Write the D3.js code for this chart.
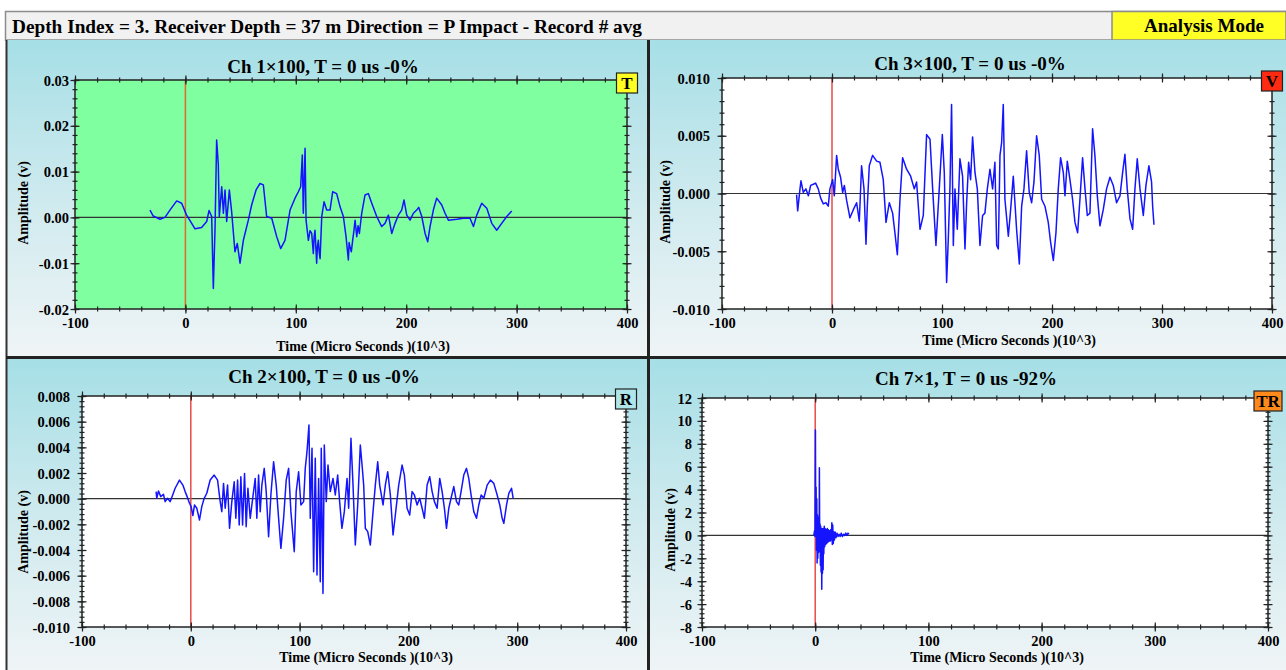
<!DOCTYPE html>
<html>
<head>
<meta charset="utf-8">
<script src="https://cdn.jsdelivr.net/npm/d3@7"></script>
<style>
  body { margin: 0; background: #fff; }
  svg text { font-family: "Liberation Serif", "Times New Roman", serif; font-weight: bold; fill: #000; }
</style>
</head>
<body>
<svg id="chart" width="1286" height="670"></svg>
<script>
// ---- texts ----
const headerText = "Depth Index = 3. Receiver Depth = 37 m Direction = P Impact - Record # avg";
const modeText = "Analysis Mode";
const panelTitles = ["Ch 1×100, T = 0 us -0%", "Ch 3×100, T = 0 us -0%", "Ch 2×100, T = 0 us -0%", "Ch 7×1, T = 0 us -92%"];
const badges = ["T", "V", "R", "TR"];
const xTitle = "Time (Micro Seconds )(10^3)";
const yTitle = "Amplitude (v)";

// x axis (time, x10^3 us)
const xTicks = [-100, 0, 100, 200, 300, 400];
const xTickLabels = ["-100", "0", "100", "200", "300", "400"];

// y axes
const ch1YTicks = [-0.02, -0.01, 0, 0.01, 0.02, 0.03];
const ch1YLabels = ["-0.02", "-0.01", "0.00", "0.01", "0.02", "0.03"];
const ch3YTicks = [-0.01, -0.005, 0, 0.005, 0.01];
const ch3YLabels = ["-0.010", "-0.005", "0.000", "0.005", "0.010"];
const ch2YTicks = [-0.01, -0.008, -0.006, -0.004, -0.002, 0, 0.002, 0.004, 0.006, 0.008];
const ch2YLabels = ["-0.010", "-0.008", "-0.006", "-0.004", "-0.002", "0.000", "0.002", "0.004", "0.006", "0.008"];
const ch7YTicks = [-8, -6, -4, -2, 0, 2, 4, 6, 8, 10, 12];
const ch7YLabels = ["-8", "-6", "-4", "-2", "0", "2", "4", "6", "8", "10", "12"];

// ---- waveforms (time x10^3 us, amplitude in mV for ch1/ch2/ch3, V for ch7) ----
const ch1Time = [-32.1, -29.1, -23.0, -18.5, -14.0, -7.9, -3.4, 1.1, 5.7, 8.7,
  14.7, 19.3, 21.4, 23.8, 25.3, 26.8, 28.3, 29.8, 30.7, 32.9,
  34.4, 35.9, 37.4, 39.8, 41.9, 44.9, 47.0, 49.5, 52.5, 57.0,
  60.0, 64.0, 67.6, 70.6, 73.6, 78.2, 82.7, 86.3, 90.2, 94.8,
  99.3, 102.3, 104.4, 105.9, 106.8, 108.4, 109.3, 111.4, 112.9, 114.4,
  115.9, 116.6, 117.4, 118.9, 119.6, 120.4, 121.2, 122.0, 123.5, 125.6,
  128.0, 131.0, 133.4, 137.0, 140.1, 143.1, 145.5, 147.6, 148.3, 149.1,
  150.3, 151.5, 152.6, 153.7, 155.2, 156.4, 157.6, 159.7, 162.7, 165.7,
  168.8, 173.3, 177.8, 180.8, 183.9, 186.9, 189.9, 192.9, 195.9, 198.0,
  200.5, 203.5, 206.5, 209.5, 211.3, 214.1, 217.1, 219.5, 221.6, 224.6,
  227.6, 232.2, 235.2, 238.2, 245.8, 251.8, 257.8, 260.9, 263.9, 268.4,
  273.0, 277.5, 282.0, 286.5, 291.1, 295.6];
const ch1AmpMilli = [1.6, 0.3, -0.4, 0.0, 1.6, 3.6, 3.1, 0.5, -1.3, -2.5,
  -2.2, -0.9, 1.5, 0.2, -15.5, -2.8, 16.9, 11.6, 0.2, 6.7,
  0.9, 6.0, -0.9, 6.0, 1.2, -7.5, -5.7, -10.0, -5.0, -0.6,
  2.7, 6.0, 7.4, 7.1, 0.2, -0.2, -4.2, -6.8, -5.0, 1.6,
  4.2, 5.6, 6.7, 13.6, 0.9, 15.1, -0.6, -5.0, -2.9, -3.5,
  -7.9, -4.2, -2.8, -10.0, -6.4, -5.0, -7.6, -9.0, 0.2, 3.4,
  1.6, 1.6, 5.6, 5.2, 2.3, 0.2, -4.2, -9.3, -5.5, -6.4,
  -7.5, -5.0, -3.0, -0.6, -4.2, -1.8, -3.5, 0.9, 4.9, 5.2,
  3.1, 0.2, -2.0, -1.3, 0.5, -3.5, -1.3, 0.5, 1.6, 3.8,
  0.5, -0.6, 0.9, 1.6, 2.2, 0.2, -3.5, -5.3, -2.0, 1.6,
  4.2, 2.7, 0.9, -0.6, -0.4, -0.2, -0.2, -2.0, 0.5, 3.1,
  2.0, -1.3, -2.8, -1.3, 0.2, 1.4];

const ch3Time = [-32.2, -31.2, -29.1, -28.2, -26.1, -23.7, -21.5, -19.4, -17.0, -14.9, -12.5, -10.3, -7.9, -5.5, -3.4, -1.9, 0.6, 2.1, 4.2, 5.7,
  7.8, 9.7, 11.2, 13.3, 16.3, 19.4, 22.4, 24.8, 26.9, 29.1, 30.9, 32.1, 33.9, 36.9, 40.6, 43.6, 46.6, 49.1, 52.1, 55.1,
  57.2, 59.4, 61.8, 64.2, 67.8, 71.5, 74.8, 76.9, 80.0, 83.0, 86.0, 89.1, 91.5, 94.5, 97.5, 100.3, 102.1, 104.2, 105.7, 107.2,
  108.7, 110.3, 111.8, 113.9, 116.3, 118.7, 120.9, 122.4, 124.2, 126.0, 127.8, 130.0, 132.1, 134.5, 136.9, 139.0, 141.2, 143.6, 146.0, 148.1,
  149.7, 151.2, 152.7, 154.2, 155.7, 157.2, 160.3, 162.4, 164.8, 167.8, 170.3, 172.4, 174.5, 176.9, 179.3, 181.5, 183.6, 186.0, 188.4, 190.6,
  193.6, 196.6, 198.7, 201.2, 203.6, 205.7, 207.8, 210.3, 211.8, 213.9, 216.3, 218.7, 220.9, 223.3, 225.4, 227.8, 230.0, 232.1, 234.5, 236.9,
  239.0, 241.2, 243.6, 246.6, 249.6, 252.7, 255.7, 258.7, 261.8, 264.2, 266.3, 268.4, 270.9, 273.3, 275.4, 277.5, 280.0, 283.0, 285.4, 288.1,
  290.5, 291.5, 292.7];
const ch3AmpMilli = [-0.1, -1.5, 0.4, 1.1, 0.1, 0.4, -0.2, 0.7, 0.8, 0.9, 0.4, -0.4, -0.9, -0.8, -1.1, 0.4, 1.2, -0.2, 3.3, 2.1,
  1.4, 0.1, 0.7, -0.6, -2.1, -1.4, -0.8, -2.4, 2.4, 0.4, -4.4, -1.1, 2.4, 3.3, 2.8, 2.7, 1.2, -2.5, -0.8, -1.7,
  -3.4, -5.3, -0.5, 3.1, 2.1, 1.5, 0.4, 1.0, -3.1, -1.9, 5.1, 4.7, 0.4, -4.5, 0.4, 5.1, 1.8, -7.7, -4.0, 0.4,
  7.7, -4.5, 0.4, -3.1, 3.0, 1.5, -4.8, -0.8, 2.7, 1.2, 4.9, 1.8, 0.4, -4.5, -1.9, -1.7, 0.4, 2.1, 0.4, 2.7,
  -4.5, -4.8, 3.3, 4.4, 7.7, -0.5, -3.7, -1.4, 1.5, -3.1, -6.1, -1.1, 0.4, 3.7, 0.1, -0.8, 1.0, 5.0, 3.3, -0.5,
  -1.1, -2.5, -4.2, -5.8, -3.4, 0.4, 3.1, 1.8, -0.2, 2.8, 1.2, -0.5, -2.5, -3.4, -0.5, 3.1, 0.4, -1.9, -1.7, 5.6,
  3.3, -0.2, -2.8, -1.4, 0.4, 1.4, 0.7, -0.8, -0.2, 1.8, 3.4, 0.4, -2.2, -3.1, 0.4, 3.0, 0.4, -1.9, 0.7, 2.4,
  1.0, -1.1, -2.7];

const ch2Time = [-31.9, -31.3, -29.7, -27.6, -25.1, -23.6, -21.4, -19.0, -16.9, -14.4, -10.4, -7.3, -5.2, -3.0, -1.2, 0.3, 1.9, 3.4, 5.5, 8.0,
  10.1, 12.3, 14.7, 17.8, 21.5, 24.6, 27.0, 28.5, 30.1, 31.6, 33.8, 35.6, 37.7, 39.9, 41.4, 43.0, 44.5, 46.0, 47.6, 49.4,
  50.9, 52.5, 54.6, 57.1, 59.2, 60.7, 62.3, 63.8, 65.3, 67.5, 69.3, 71.5, 73.6, 76.1, 78.5, 80.7, 82.8, 85.3, 87.7, 89.9,
  92.0, 95.1, 96.9, 99.1, 101.2, 103.7, 105.2, 106.8, 108.6, 109.8, 111.4, 112.9, 114.4, 116.0, 117.5, 119.0, 119.9, 121.5, 122.7, 124.5,
  126.1, 128.2, 130.7, 132.8, 135.0, 136.8, 138.9, 141.1, 143.6, 145.1, 147.2, 149.1, 151.2, 153.4, 155.8, 157.4, 158.9, 160.4, 162.6, 165.0,
  167.5, 169.6, 171.8, 173.6, 176.7, 178.8, 181.0, 183.4, 185.9, 188.0, 191.1, 194.2, 196.3, 198.8, 201.2, 203.4, 205.5, 208.0, 210.4, 212.6,
  214.7, 217.2, 219.6, 221.8, 223.9, 226.4, 228.8, 231.0, 233.1, 235.0, 237.1, 239.2, 241.7, 244.2, 246.3, 248.4, 250.9, 253.4, 255.5, 257.6,
  260.1, 262.6, 264.7, 266.9, 269.3, 272.4, 275.4, 278.5, 281.6, 284.0, 286.2, 287.7, 290.2, 292.3, 294.8, 296.3];
const ch2AmpMilli = [0.55, 0.03, 0.60, 0.16, 0.34, -0.23, 0.03, -0.23, 0.23, 0.81, 1.45, 1.06, 0.55, 0.08, -0.36, -0.62, -1.32, -0.49, -0.75, -1.66,
  -0.62, 0.03, 0.42, 1.45, 1.84, 1.45, -0.23, -1.01, 1.19, -0.75, 1.06, -2.31, -0.23, 1.32, -1.53, 1.45, -2.05, 1.71, -2.05, 1.97,
  -2.18, 0.81, -1.53, 0.16, 1.58, -1.53, 1.84, -1.01, 1.06, 2.36, 0.55, -2.96, 0.29, 2.88, 1.06, -1.53, -3.87, -1.53, 1.45, 2.36,
  -1.01, -4.13, 0.55, 2.10, -0.49, -0.23, 2.36, 3.66, 5.74, -1.53, 3.92, -5.69, 3.14, -5.95, 1.58, -6.47, 3.92, -7.38, 4.18, -0.23,
  2.62, 0.55, 1.58, 0.29, 1.84, -0.23, -2.31, -1.01, 1.58, -0.75, 4.70, 1.06, -3.61, -0.49, 4.18, 2.62, 1.06, -2.31, -2.57, -3.61,
  -1.01, 1.06, 2.88, 1.06, -0.49, 1.06, 2.10, 0.29, -2.83, -1.27, 1.06, 2.62, 1.84, -0.75, -1.27, 0.55, 0.29, -0.49, 0.03, -0.75,
  -1.53, 1.06, 1.71, 0.55, -0.23, -0.75, 1.58, 0.55, -0.75, -2.31, -0.75, 0.03, 0.94, -0.23, -0.49, 0.55, 1.84, 2.36, 1.58, 0.29,
  -1.01, -1.53, -0.49, 0.29, 0.03, 1.06, 1.45, 1.19, 0.29, -0.49, -1.53, -1.92, -0.49, 0.42, 0.81, 0.03];

const ch7Time = [-1.2, -0.6, -0.2, 0.2, 0.5, 0.8, 1.1, 1.4, 1.7, 2.0, 2.3, 2.6, 2.9, 3.2, 3.5, 3.7, 4.0, 4.3, 4.6, 4.9,
  5.2, 5.5, 5.8, 6.1, 6.4, 6.7, 7.0, 7.3, 7.6, 8.0, 8.4, 8.8, 9.2, 9.7, 10.2, 10.7, 11.2, 11.7, 12.2, 12.7,
  13.2, 13.7, 14.2, 14.7, 15.1, 15.5, 16.0, 16.5, 17.0, 17.6, 18.4, 19.3, 20.2, 21.1, 22.0, 23.0, 24.0, 25.0, 26.0, 27.0,
  28.0, 29.0, 29.8];
const ch7Amp = [0, 0.4, -0.1, 9.2, 0.3, 4.2, -1.3, 3.2, -2.4, 1.8, -2.0, 1.6, -1.5, 1.3, -1.2, 5.9, -1.4, 1.0, -2.6, 0.8,
  -3.2, 0.6, -4.7, 0.4, -3.3, 0.6, -3.0, 0.5, -1.6, 0.8, -1.0, 0.6, -0.8, 0.5, -0.7, 0.6, -0.6, 0.5, -0.5, 0.4,
  -0.5, 0.5, -0.4, 1.1, -0.8, 0.9, -0.7, 0.3, -0.4, 0.3, -0.2, 0.2, -0.1, 0.1, -0.1, 0.2, -0.1, 0.1, 0.0, 0.2,
  0.0, 0.2, 0.1];

// ---- layout (pixels) ----
const W = 1286, H = 670;
const panels = [
  { title: panelTitles[0], badge: badges[0], badgeFill: "#ffff22", time: ch1Time, amp: ch1AmpMilli.map(v => v / 1000),
    yTicks: ch1YTicks, yLabels: ch1YLabels, yMinor: 0.002, plotBg: "#80ffa0", trigger: "#e2692e",
    box: [6, 40, 648, 357], x0: 75, x1: 627, y0: 80, y1: 309, titleX: 323, titleY: 66, xTitleY: 346, yTitleX: 23, yTitleY: 203, gap: 6 },
  { title: panelTitles[1], badge: badges[1], badgeFill: "#ff2a12", time: ch3Time, amp: ch3AmpMilli.map(v => v / 1000),
    yTicks: ch3YTicks, yLabels: ch3YLabels, yMinor: 0.001, plotBg: "#ffffff", trigger: "#e84a4a",
    box: [648, 40, 1286, 357], x0: 722, x1: 1272, y0: 78, y1: 309, titleX: 970, titleY: 63, xTitleY: 340, yTitleX: 665, yTitleY: 202, gap: 12 },
  { title: panelTitles[2], badge: badges[2], badgeFill: "#aee6ea", time: ch2Time, amp: ch2AmpMilli.map(v => v / 1000),
    yTicks: ch2YTicks, yLabels: ch2YLabels, yMinor: 0.0004, plotBg: "#ffffff", trigger: "#e84a4a",
    box: [6, 358, 648, 670], x0: 82, x1: 626, y0: 396, y1: 627, titleX: 324, titleY: 376, xTitleY: 657, yTitleX: 23, yTitleY: 532, gap: 12 },
  { title: panelTitles[3], badge: badges[3], badgeFill: "#ff8a1c", time: ch7Time, amp: ch7Amp,
    yTicks: ch7YTicks, yLabels: ch7YLabels, yMinor: 0.4, plotBg: "#ffffff", trigger: "#e84a4a",
    box: [648, 358, 1286, 670], x0: 702, x1: 1268, y0: 398, y1: 627, titleX: 966, titleY: 378, xTitleY: 657, yTitleX: 670, yTitleY: 530, gap: 10 }
];

const svg = d3.select("#chart");

const defs = svg.append("defs");
const grad = defs.append("linearGradient").attr("id", "panelBg")
  .attr("x1", 0).attr("y1", 0).attr("x2", 0).attr("y2", 1);
grad.append("stop").attr("offset", "0%").attr("stop-color", "#a6dfe6");
grad.append("stop").attr("offset", "55%").attr("stop-color", "#d2ebef");
grad.append("stop").attr("offset", "100%").attr("stop-color", "#eff4f6");

svg.append("rect").attr("width", W).attr("height", H).attr("fill", "#fff");

// header bar
svg.append("rect").attr("x", 5.5).attr("y", 11.5).attr("width", W - 5).attr("height", 28.5)
  .attr("fill", "#f1f1f1").attr("stroke", "#8c8c8c").attr("stroke-width", 1.5);
svg.append("text").attr("x", 12).attr("y", 33).attr("font-size", 19)
  .attr("textLength", 630).attr("lengthAdjust", "spacingAndGlyphs").text(headerText);
svg.append("rect").attr("x", 1112).attr("y", 11.5).attr("width", W - 1112).attr("height", 28.5)
  .attr("fill", "#ffff26").attr("stroke", "#8c8c8c").attr("stroke-width", 1.5);
svg.append("text").attr("x", 1204).attr("y", 32).attr("font-size", 19).attr("text-anchor", "middle").text(modeText);

function drawPanel(p) {
  const [bx0, by0, bx1, by1] = p.box;
  svg.append("rect").attr("x", bx0).attr("y", by0).attr("width", bx1 - bx0).attr("height", by1 - by0)
    .attr("fill", "url(#panelBg)");

  const x = d3.scaleLinear().domain([-100, 400]).range([p.x0, p.x1]);
  const y = d3.scaleLinear().domain([p.yTicks[0], p.yTicks[p.yTicks.length - 1]]).range([p.y1, p.y0]);
  const g = svg.append("g");

  g.append("rect").attr("x", p.x0).attr("y", p.y0).attr("width", p.x1 - p.x0).attr("height", p.y1 - p.y0)
    .attr("fill", p.plotBg);

  // zero line + trigger line
  g.append("line").attr("x1", p.x0).attr("x2", p.x1).attr("y1", y(0)).attr("y2", y(0))
    .attr("stroke", "#333").attr("stroke-width", 1.2);
  g.append("line").attr("x1", x(0)).attr("x2", x(0)).attr("y1", p.y0).attr("y2", p.y1)
    .attr("stroke", p.trigger).attr("stroke-width", 1.5);

  // waveform
  const pts = p.time.map((t, i) => [t, p.amp[i]]);
  g.append("path").datum(pts)
    .attr("fill", "none").attr("stroke", "#1414ff").attr("stroke-width", 1.5).attr("stroke-linejoin", "round")
    .attr("d", d3.line().x(d => x(d[0])).y(d => y(d[1])));

  // frame
  g.append("rect").attr("x", p.x0).attr("y", p.y0).attr("width", p.x1 - p.x0).attr("height", p.y1 - p.y0)
    .attr("fill", "none").attr("stroke", "#222").attr("stroke-width", 1.5);

  const yLo = p.yTicks[0], yHi = p.yTicks[p.yTicks.length - 1];
  const xMinor = d3.range(-100, 400.001, 20);
  const yMinor = d3.range(yLo, yHi + p.yMinor / 2, p.yMinor);

  function axisGroup(axis, tx, ty, len, vertical) {
    const a = g.append("g").attr("transform", `translate(${tx},${ty})`).call(axis);
    a.select(".domain").remove();
    a.selectAll(".tick line").attr("stroke", "#222").attr("stroke-width", 1.2)
      .attr(vertical ? "x1" : "y1", -len).attr(vertical ? "x2" : "y2", len);
    return a;
  }

  // minor ticks on all sides
  axisGroup(d3.axisBottom(x).tickValues(xMinor).tickFormat(""), 0, p.y1, 2.5, false);
  axisGroup(d3.axisTop(x).tickValues(xMinor).tickFormat(""), 0, p.y0, 2.5, false);
  axisGroup(d3.axisLeft(y).tickValues(yMinor).tickFormat(""), p.x0, 0, 2.5, true);
  axisGroup(d3.axisRight(y).tickValues(yMinor).tickFormat(""), p.x1, 0, 2.5, true);

  // major ticks
  const bx = axisGroup(d3.axisBottom(x).tickValues(xTicks).tickFormat((d, i) => xTickLabels[i]), 0, p.y1, 4.5, false);
  bx.selectAll("text").attr("y", 14).attr("dy", "0.35em").attr("font-size", 14.5)
    .attr("font-family", "Liberation Serif, Times New Roman, serif").attr("fill", "#000");
  axisGroup(d3.axisTop(x).tickValues(xTicks).tickFormat(""), 0, p.y0, 4.5, false);
  const ly = axisGroup(d3.axisLeft(y).tickValues(p.yTicks).tickFormat((d, i) => p.yLabels[i]), p.x0, 0, 4.5, true);
  ly.selectAll("text").attr("x", -p.gap).attr("dy", "0.35em").attr("font-size", 14.5)
    .attr("font-family", "Liberation Serif, Times New Roman, serif").attr("fill", "#000");
  axisGroup(d3.axisRight(y).tickValues(p.yTicks).tickFormat(""), p.x1, 0, 4.5, true);

  // titles
  g.append("text").attr("x", p.titleX).attr("y", p.titleY).attr("dy", "0.35em")
    .attr("text-anchor", "middle").attr("font-size", 19).text(p.title);
  g.append("text").attr("x", (p.x0 + p.x1) / 2 + 12).attr("y", p.xTitleY).attr("dy", "0.35em")
    .attr("text-anchor", "middle").attr("font-size", 14).text(xTitle);
  g.append("text").attr("transform", `translate(${p.yTitleX},${p.yTitleY}) rotate(-90)`).attr("dy", "0.35em")
    .attr("text-anchor", "middle").attr("font-size", 14).text(yTitle);

  // channel badge at the top-right corner
  const bw = p.badge.length > 1 ? 28 : 21;
  g.append("rect").attr("x", p.x1 - bw / 2).attr("y", p.y0 - 7).attr("width", bw).attr("height", 20)
    .attr("fill", p.badgeFill).attr("stroke", "#222").attr("stroke-width", 1.2);
  g.append("text").attr("x", p.x1).attr("y", p.y0 + 3).attr("dy", "0.35em")
    .attr("text-anchor", "middle").attr("font-size", 17).text(p.badge);
}

panels.forEach(drawPanel);

// panel separators
svg.append("line").attr("x1", 6.5).attr("x2", 6.5).attr("y1", 40).attr("y2", H)
  .attr("stroke", "#333").attr("stroke-width", 2);
svg.append("line").attr("x1", 648.5).attr("x2", 648.5).attr("y1", 40).attr("y2", H)
  .attr("stroke", "#222").attr("stroke-width", 3);
svg.append("line").attr("x1", 6).attr("x2", W).attr("y1", 357.5).attr("y2", 357.5)
  .attr("stroke", "#222").attr("stroke-width", 3);
</script>
</body>
</html>
